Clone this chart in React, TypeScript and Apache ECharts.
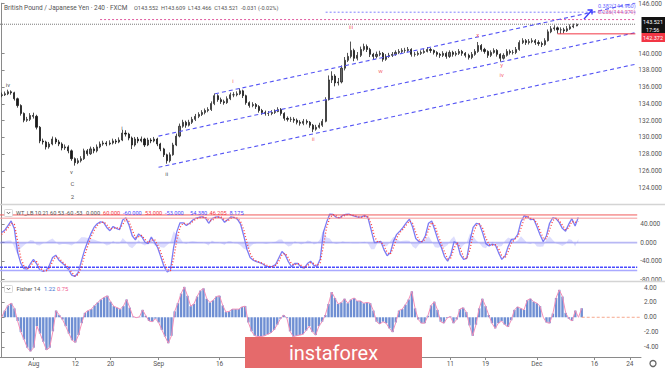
import React, { useEffect, useRef } from "react";
import * as echarts from "echarts";

const SLOTS = 200;
const firstOpen = 135.0;

const closes = [
  135.09,135.21,135.45,135.33,134.62,133.80,132.86,132.04,132.15,132.62,
  132.51,131.21,129.57,129.45,128.86,129.21,129.80,129.45,129.21,128.74,
  128.86,128.39,127.45,126.98,127.21,127.45,128.39,128.04,128.62,128.39,
  128.86,129.21,129.33,129.21,129.33,129.57,129.45,129.68,130.51,130.39,
  129.92,129.09,129.80,129.57,129.80,129.09,129.68,129.57,129.80,129.21,
  128.62,127.92,127.21,127.92,129.09,130.15,131.33,131.80,131.45,131.80,
  132.15,132.51,132.74,132.98,133.21,133.33,134.04,134.98,134.51,134.27,
  134.15,134.62,135.09,135.09,135.21,135.56,134.98,134.15,133.80,133.92,
  133.68,133.21,132.98,132.86,132.86,132.98,133.09,133.33,132.86,132.27,
  132.15,132.15,132.04,131.80,131.68,131.92,131.80,131.45,130.98,131.21,
  131.45,131.92,134.51,136.86,137.33,136.51,136.62,138.27,139.21,139.68,
  140.39,139.45,139.80,140.51,140.86,140.51,139.92,139.68,139.92,140.04,
  139.33,139.68,139.80,139.92,140.15,140.27,140.39,140.39,140.51,139.92,
  139.92,140.04,140.15,140.27,140.51,140.39,140.15,139.92,139.80,140.04,
  139.68,140.15,139.92,140.04,140.27,140.04,139.80,139.56,139.92,140.27,
  140.98,140.51,140.27,139.80,140.15,140.39,139.92,139.45,139.80,140.27,
  140.15,140.15,140.51,141.33,141.56,141.33,141.45,141.56,141.33,141.21,
  141.09,141.56,142.62,142.98,143.09,142.86,142.86,142.74,142.98,143.21,
  143.33,143.52
];

const highs = [
  135.35,135.48,135.70,135.62,135.45,134.75,133.95,132.98,132.45,132.90,
  132.95,132.70,131.35,129.85,129.60,129.45,130.10,130.00,129.70,129.40,
  129.15,129.05,128.55,127.60,127.50,127.75,128.65,128.60,128.90,128.85,
  129.15,129.50,129.60,129.55,129.65,129.85,129.80,130.00,130.90,130.85,
  130.55,130.10,130.05,130.05,130.10,129.95,129.95,129.90,130.05,129.95,
  129.35,128.75,128.05,128.20,129.35,130.45,131.65,132.10,132.00,132.10,
  132.45,132.80,133.00,133.25,133.45,133.60,134.30,135.25,135.15,134.75,
  134.50,134.90,135.35,135.40,135.50,135.85,135.70,135.10,134.30,134.20,
  134.10,133.85,133.40,133.20,133.15,133.25,133.35,133.60,133.50,133.00,
  132.50,132.45,132.40,132.25,132.05,132.20,132.15,131.95,131.60,131.50,
  131.75,132.20,134.80,137.40,137.90,137.55,137.10,138.60,139.60,140.10,
  141.45,140.60,140.20,140.85,141.20,141.10,140.70,140.10,140.25,140.35,
  140.20,139.95,140.10,140.20,140.40,140.55,140.65,140.70,140.80,140.65,
  140.20,140.30,140.40,140.55,140.80,140.70,140.50,140.30,140.10,140.30,
  140.25,140.40,140.35,140.30,140.55,140.45,140.20,140.00,140.20,140.55,
  141.40,141.15,140.70,140.40,140.40,140.65,140.55,140.05,140.05,140.55,
  140.50,140.45,140.80,141.60,141.85,141.75,141.75,141.85,141.75,141.60,
  141.45,141.85,142.90,143.30,143.40,143.25,143.15,143.10,143.30,143.50,
  143.60,143.61
];

const lows = [
  134.80,134.95,135.05,135.10,134.40,133.55,132.60,131.80,131.85,131.95,
  132.25,130.95,129.30,129.15,128.55,128.65,129.05,129.20,128.95,128.45,
  128.50,128.10,127.20,126.62,126.80,127.00,127.30,127.80,127.90,128.10,
  128.20,128.70,129.00,128.95,129.05,129.15,129.20,129.30,129.55,130.10,
  129.65,128.60,128.90,129.30,129.40,128.85,128.95,129.30,129.40,128.95,
  128.35,127.65,126.86,127.00,127.80,128.95,130.00,131.15,131.15,131.30,
  131.60,131.95,132.30,132.55,132.75,133.00,133.15,133.85,134.25,134.00,
  133.90,134.00,134.45,134.80,134.90,135.05,134.70,133.90,133.55,133.60,
  133.40,132.95,132.70,132.60,132.55,132.65,132.80,133.00,132.60,132.00,
  131.90,131.85,131.75,131.55,131.40,131.45,131.55,131.15,130.62,130.80,
  131.05,131.25,131.80,134.40,136.50,136.10,136.20,136.45,138.00,139.00,
  139.45,139.10,139.20,139.60,140.30,140.20,139.60,139.35,139.45,139.70,
  139.05,139.15,139.50,139.60,139.75,139.95,140.05,140.10,140.20,139.65,
  139.65,139.75,139.85,140.00,140.15,140.10,139.90,139.65,139.50,139.60,
  139.40,139.50,139.65,139.70,139.85,139.75,139.55,139.30,139.35,139.75,
  140.10,140.25,140.00,139.50,139.60,140.00,139.65,139.05,139.30,139.65,
  139.90,139.90,139.95,140.35,141.15,141.05,141.10,141.25,141.05,140.95,
  140.80,140.95,141.45,142.45,142.75,142.40,142.37,142.45,142.60,142.85,
  143.05,143.28
];

const fisher = [
  0.0,0.9,1.6,1.9,1.2,-0.5,-2.0,-3.0,-4.1,-4.6,
  -4.1,-1.2,-2.2,-3.3,-4.4,-4.1,-1.9,0.9,0.3,-0.3,
  -1.2,-2.2,-3.1,-3.4,-2.4,-0.8,0.6,0.9,1.1,1.6,
  2.0,2.4,2.7,2.9,2.1,1.5,1.3,1.1,1.5,2.4,
  1.3,0.1,-0.05,0.05,1.0,0.2,-0.5,-0.6,-0.2,-0.7,
  -1.7,-2.6,-3.5,-2.5,0.8,1.9,3.2,4.1,2.9,1.5,
  1.8,2.8,3.6,3.9,2.5,2.0,2.3,2.8,2.9,1.6,
  0.7,0.8,1.1,1.1,1.1,1.4,1.5,-0.7,-1.9,-2.5,
  -2.6,-2.6,-2.5,-2.3,-2.1,-1.7,-1.0,-0.2,0.3,-0.1,
  -1.9,-2.6,-2.5,-2.4,-2.3,-1.8,-1.2,-2.0,-2.4,-1.2,
  -0.6,0.3,1.8,3.4,2.6,1.8,2.0,2.5,1.9,2.4,
  2.6,2.2,2.2,1.9,2.0,1.9,0.9,-0.6,-0.9,-0.6,
  -0.8,-1.5,-2.0,-0.7,0.9,1.1,1.7,2.4,3.5,1.2,
  -0.3,-0.8,-0.8,0.2,1.6,2.1,1.0,-0.6,-0.8,-0.1,
  0.1,-0.8,-0.3,1.1,1.3,0.7,-1.1,-2.5,-1.0,1.2,
  2.5,1.5,0.3,-0.8,-1.5,-0.8,-0.5,-1.0,-1.3,-0.4,
  1.0,1.4,1.2,1.0,2.3,2.5,2.1,1.9,1.5,0.0,
  -0.7,-0.8,0.5,2.6,3.7,2.8,0.6,-0.2,-0.5,0.9,
  0.0,1.22
];

const wt1 = [
  22,27,37,47,30,-20,-44,-56,-57,-46,
  -36,-46,-59,-62,-60,-49,-32,-27,-38,-44,
  -50,-58,-70,-73,-65,-41,-17,2,19,33,
  41,45,44,33,26,35,31,28,49,54,
  38,15,6,19,13,1,-2,12,1,-11,
  -31,-52,-63,-59,-10,24,43,43,37,42,
  49,53,55,56,53,42,52,55,56,53,
  44,50,56,54,51,40,15,-14,-32,-38,
  -41,-43,-46,-51,-52,-51,-47,-33,-19,-26,
  -41,-52,-45,-45,-53,-55,-45,-40,-49,-51,
  -35,22,44,62,61,55,53,59,61,62,
  59,57,55,56,59,54,27,0,1,3,
  -15,-28,-22,3,18,25,33,43,51,34,
  9,2,2,15,42,47,27,5,-10,-30,
  -40,-26,2,-1,-26,-36,-34,5,33,42,
  40,21,-2,-7,-3,-5,-22,-36,-29,-8,
  7,8,18,45,58,56,50,51,35,17,
  2,15,42,54,52,44,31,25,40,52,
  36,54.38
];

const wt2 = [
  18,24,32,42,40,5,-32,-50,-57,-52,
  -41,-41,-53,-61,-61,-55,-41,-29,-33,-41,
  -47,-54,-64,-72,-69,-53,-29,-8,11,26,
  37,43,45,39,30,31,33,30,39,51,
  46,27,11,13,16,7,0,5,7,-5,
  -21,-41,-58,-61,-35,7,33,43,40,40,
  46,51,54,55,55,48,47,54,55,55,
  49,47,53,55,53,46,28,1,-23,-35,
  -40,-42,-45,-48,-51,-52,-49,-40,-26,-23,
  -33,-46,-48,-45,-49,-54,-50,-43,-45,-50,
  -43,-7,33,53,61,58,54,56,60,61,
  60,58,56,55,57,56,41,14,1,2,
  -6,-21,-25,-10,10,22,29,38,47,42,
  22,6,2,8,28,44,37,16,-2,-20,
  -35,-33,-12,1,-13,-31,-35,-15,19,37,
  41,31,10,-4,-5,-4,-13,-29,-33,-19,
  -1,7,13,31,51,57,53,50,43,26,
  10,8,28,48,53,48,38,28,32,46,
  44,46.205
];

const wtHist = [
  4,3,5,5,-10,-25,-12,-6,0,6,
  5,-5,-6,-1,1,6,9,2,-5,-3,
  -3,-4,-6,-1,4,12,12,10,8,7,
  4,2,-1,-6,-4,4,-2,-2,10,3,
  -8,-12,-5,6,-3,-6,-2,7,-6,-6,
  -10,-11,-5,2,25,17,10,0,-3,2,
  3,2,1,1,-2,-6,5,1,1,-2,
  -5,3,3,-1,-2,-6,-13,-15,-9,-3,
  -1,-1,-1,-3,-1,1,2,7,7,-3,
  -8,-6,3,0,-4,-1,5,3,-4,-1,
  8,29,11,9,0,-3,-1,3,1,1,
  -1,-1,-1,1,2,-2,-14,-14,0,1,
  -9,-7,3,13,8,3,4,5,4,-8,
  -13,-4,0,7,14,3,-10,-11,-8,-10,
  -5,7,14,-2,-13,-5,1,20,14,5,
  -1,-10,-12,-3,2,-1,-9,-7,4,11,
  8,1,5,14,7,-1,-3,1,-8,-9,
  -8,7,14,6,-1,-4,-7,-3,8,6,
  -8,8.175
];

const xTickSlots = [10, 23, 34, 49, 68, 140, 151, 167, 185, 196];
const xTickLabels = ["Aug", "12", "20", "Sep", "16", "11", "19", "Dec", "16", "24"];
const priceTicks = [146, 140, 138, 136, 134, 132, 130, 128, 126, 124];
const wtTicks = [40, 0, -40, -80];
const fisherTicks = [4, 2, 0, -2, -4];

const lastPrice = 143.521;
const stopLevel = 142.372;
const stopStartSlot = 175;
const fib382 = 144.96;
const fib382StartSlot = 102;
const fib236 = 144.079;
const fib236StartSlot = 31;

const upperChannel = [[67.2, 135.21], [199.5, 146.07]];
const middleChannel = [[49.4, 130.15], [199.5, 142.51]];
const lowerChannel = [[49.4, 126.42], [199.5, 138.74]];

const wavesDark: [number, number, string][] = [
  [2.0, 136.27, "iv"], [22.0, 125.92, "v"], [22.3, 124.51, "C"], [22.3, 122.98, "2"],
  [37.9, 131.21, "i"], [52.0, 125.72, "ii"],
];
const wavesRed: [number, number, string][] = [
  [72.8, 136.74, "i"], [98.1, 129.92, "ii"], [110.0, 143.21, "iii"], [119.3, 138.04, "w"],
  [149.9, 142.27, "x"], [157.4, 138.74, "y"], [157.4, 137.56, "iv"],
];

const FONT = "Roboto, 'Liberation Sans', sans-serif";
const AX = "#8a8a8a";
const LBL = "#555";

function buildOption() {
  const cats = Array.from({ length: SLOTS }, (_, i) => String(i));
  const candles = closes.map((c, i) => [i === 0 ? firstOpen : closes[i - 1], c, lows[i], highs[i]]);
  const right = SLOTS - 0.5;
  const hLine = (x0: number, y: number) => [[x0, y], [right, y]];

  const yCommon = (ticks: number[], digits: number) => ({
    type: "value",
    position: "right",
    splitLine: { show: false },
    axisLine: { show: true, lineStyle: { color: AX, width: 1 } },
    axisTick: { show: true, customValues: ticks, length: 3, lineStyle: { color: AX } },
    axisLabel: {
      show: true, customValues: ticks, margin: 3, fontSize: 6.5, color: LBL, fontFamily: FONT,
      formatter: (v: number) => v.toFixed(digits),
    },
  });

  const lineS = (data: number[][], xi: number, yi: number, color: string, type: any, width: number) => ({
    type: "line", xAxisIndex: xi, yAxisIndex: yi, data, symbol: "none", silent: true,
    lineStyle: { color, type, width }, z: 5,
  });

  const waveSeries = (list: [number, number, string][], color: string) => ({
    type: "scatter", xAxisIndex: 1, yAxisIndex: 0, symbolSize: 0.1, silent: true,
    itemStyle: { color: "transparent" },
    data: list.map((w) => ({ value: [w[0], w[1]], name: w[2] })),
    label: { show: true, position: "inside", formatter: "{b}", color, fontSize: 6, fontFamily: FONT },
    z: 10,
  });

  const txt = (x: number, y: number, text: string, fill: string, size = 6.5, align = "left", z = 110) => ({
    type: "text", x, y, silent: true, z,
    style: { text, fill, fontSize: size, fontFamily: FONT, align, verticalAlign: "middle", textAlign: align, textVerticalAlign: "middle" },
  });

  return {
    animation: false,
    backgroundColor: "#ffffff",
    grid: [
      { left: 0, top: 0, width: 641, height: 204 },
      { left: 0, top: 205, width: 641, height: 76 },
      { left: 0, top: 282, width: 641, height: 75 },
    ],
    xAxis: [
      { type: "category", gridIndex: 0, data: cats, show: false },
      { type: "value", gridIndex: 0, min: -0.5, max: right, show: false },
      { type: "category", gridIndex: 1, data: cats, show: false },
      { type: "value", gridIndex: 1, min: -0.5, max: right, show: false },
      { type: "category", gridIndex: 2, data: cats, show: false },
      {
        type: "value", gridIndex: 2, min: -0.5, max: right, show: true, position: "bottom",
        splitLine: { show: false },
        axisLine: { show: true, lineStyle: { color: AX } },
        axisTick: { show: true, customValues: xTickSlots, length: 3, lineStyle: { color: AX } },
        axisLabel: {
          show: true, customValues: xTickSlots, margin: 3, fontSize: 6.5, color: LBL, fontFamily: FONT,
          formatter: (v: number) => xTickLabels[xTickSlots.indexOf(v)] ?? "",
        },
      },
    ],
    yAxis: [
      { ...yCommon(priceTicks, 3), gridIndex: 0, min: 122.035, max: 146.035 },
      { ...yCommon(wtTicks, 3), gridIndex: 1, min: -82.8, max: 81.5 },
      { ...yCommon(fisherTicks, 2), gridIndex: 2, min: -5.36, max: 4.76 },
    ],
    series: [
      lineS(hLine(-0.5, lastPrice), 1, 0, "#7a7a7a", "dotted", 1),
      lineS(hLine(fib236StartSlot, fib236), 1, 0, "#e05aa0", [2, 2], 1),
      lineS(hLine(fib382StartSlot, fib382), 1, 0, "#8080ff", [2, 2], 1),
      {
        type: "candlestick", xAxisIndex: 0, yAxisIndex: 0, data: candles, barWidth: 1.6,
        itemStyle: { color: "#6a6a6a", color0: "#1a1a1a", borderColor: "#2a2a2a", borderColor0: "#1a1a1a", borderWidth: 0.8 },
        silent: true, z: 3,
      },
      lineS(upperChannel, 1, 0, "#5555f5", [4, 3], 1.1),
      lineS(middleChannel, 1, 0, "#5555f5", [4, 3], 1.1),
      lineS(lowerChannel, 1, 0, "#5555f5", [4, 3], 1.1),
      lineS(hLine(stopStartSlot, stopLevel), 1, 0, "#f23645", "solid", 1),
      waveSeries(wavesDark, "#222"),
      waveSeries(wavesRed, "#f23645"),

      // WaveTrend pane
      lineS(hLine(-0.5, 60), 3, 1, "#f05a5a", "solid", 1),
      lineS(hLine(-0.5, 53), 3, 1, "#f59a9a", "solid", 1),
      lineS(hLine(-0.5, -53), 3, 1, "#4a4aff", [3, 1], 1.6),
      lineS(hLine(-0.5, -60), 3, 1, "#a9a9ff", "solid", 1.4),
      {
        type: "line", xAxisIndex: 2, yAxisIndex: 1, data: wtHist, symbol: "none", silent: true,
        lineStyle: { width: 0 }, areaStyle: { color: "rgba(110,110,250,0.33)" }, z: 2,
      },
      lineS(hLine(-0.5, 0), 3, 1, "rgba(125,125,235,0.55)", "solid", 1.8),
      {
        type: "line", xAxisIndex: 2, yAxisIndex: 1, data: wt1, symbol: "none", silent: true,
        lineStyle: { color: "rgba(80,80,240,0.75)", width: 1.3 }, z: 4,
      },
      {
        type: "line", xAxisIndex: 2, yAxisIndex: 1, data: wt2, symbol: "none", silent: true,
        lineStyle: { color: "#ff3b3b", width: 1.3, type: [1, 2] }, z: 5,
      },

      // Fisher pane
      {
        type: "bar", xAxisIndex: 4, yAxisIndex: 2, data: fisher, barWidth: 2.4, silent: true,
        itemStyle: { color: "#6f8fd3" }, z: 2,
      },
      {
        type: "line", xAxisIndex: 4, yAxisIndex: 2, data: fisher, symbol: "none", silent: true,
        lineStyle: { color: "#f48fb8", width: 1 }, z: 4,
      },
      lineS(hLine(closes.length - 1, 0), 5, 2, "#f6a88e", [3, 2], 1),
    ],
    graphic: [
      { type: "line", silent: true, z: 50, shape: { x1: 0, y1: 204.5, x2: 665, y2: 204.5 }, style: { stroke: "#d4d4d4", lineWidth: 1.6 } },
      { type: "line", silent: true, z: 50, shape: { x1: 0, y1: 281.5, x2: 665, y2: 281.5 }, style: { stroke: "#d4d4d4", lineWidth: 1.6 } },

      txt(4, 7.5, "British Pound / Japanese Yen · 240 · FXCM", LBL, 6.5),
      txt(134, 7.5, "O143.552  H143.609  L143.466  C143.521  -0.031 (-0.02%)", LBL, 5.6),

      // WT legend
      { type: "rect", silent: true, z: 100, shape: { x: 4.5, y: 209.5, width: 8, height: 7, r: 1 }, style: { fill: "#fff", stroke: "#cfcfcf", lineWidth: 0.8 } },
      { type: "polyline", silent: true, z: 101, shape: { points: [[6.8, 212], [8.5, 213.8], [10.2, 212]] }, style: { stroke: "#444", lineWidth: 0.8, fill: "none" } },
      txt(16, 213.3, "WT_LB 10 21 60 53 -60 -53", LBL, 5.6),
      txt(86, 213.3, "0.000", LBL, 5.6),
      txt(103, 213.3, "60.000", "#f23645", 5.6),
      txt(123, 213.3, "-60.000", "#4a4aff", 5.6),
      txt(145, 213.3, "53.000", "#f23645", 5.6),
      txt(165, 213.3, "-53.000", "#4a4aff", 5.6),
      txt(190, 213.3, "54.380", "#4a4aff", 5.6),
      txt(209.5, 213.3, "46.205", "#f23645", 5.6),
      txt(229.5, 213.3, "8.175", "#4a4aff", 5.6),

      // Fisher legend
      { type: "rect", silent: true, z: 100, shape: { x: 4.5, y: 285.5, width: 8, height: 7, r: 1 }, style: { fill: "#fff", stroke: "#cfcfcf", lineWidth: 0.8 } },
      { type: "polyline", silent: true, z: 101, shape: { points: [[6.8, 288], [8.5, 289.8], [10.2, 288]] }, style: { stroke: "#444", lineWidth: 0.8, fill: "none" } },
      txt(16.5, 289, "Fisher 14", LBL, 5.8),
      txt(44, 289, "1.22", "#3d6fd0", 5.8),
      txt(57, 289, "0.75", "#f06292", 5.8),

      // fib texts
      txt(598, 6, "0.382(144.960)", "#6a6aff", 5.5),
      txt(598, 11.5, "0.236(144.079)", "#e05aa0", 5.5),

      // arrow
      { type: "polyline", silent: true, z: 60, shape: { points: [[584, 19], [592, 10]] }, style: { stroke: "#3a3aff", lineWidth: 1.3, fill: "none" } },
      { type: "polyline", silent: true, z: 60, shape: { points: [[587.5, 10], [592, 10], [592, 14.5]] }, style: { stroke: "#3a3aff", lineWidth: 1.3, fill: "none" } },

      // price labels
      { type: "rect", silent: true, z: 100, shape: { x: 641.5, y: 17, width: 23.5, height: 9 }, style: { fill: "#131313" } },
      txt(643, 21.5, "143.521", "#ffffff", 5.5),
      { type: "rect", silent: true, z: 100, shape: { x: 641.5, y: 26, width: 23.5, height: 7 }, style: { fill: "#131313" } },
      txt(646, 29.5, "17:56", "#ffffff", 5.3),
      { type: "rect", silent: true, z: 100, shape: { x: 641.5, y: 33, width: 23.5, height: 9 }, style: { fill: "#f23645" } },
      txt(643, 37.5, "142.372", "#ffffff", 5.5),

      // logo
      { type: "rect", silent: true, z: 120, shape: { x: 245, y: 337, width: 177, height: 31 }, style: { fill: "#e56a6b" } },
      txt(333.5, 352.5, "instaforex", "#ffffff", 20, "center", 130),

      // gear
      { type: "circle", silent: true, z: 100, shape: { cx: 653, cy: 363.5, r: 3 }, style: { fill: "none", stroke: "#666", lineWidth: 1.3 } },
    ],
  };
}

export default function App() {
  const ref = useRef<HTMLDivElement>(null);
  useEffect(() => {
    if (!ref.current) return;
    const chart = echarts.init(ref.current, null, { renderer: "svg" });
    chart.setOption(buildOption() as any);
    return () => chart.dispose();
  }, []);
  return <div ref={ref} style={{ position: "fixed", left: 0, top: 0, width: 665, height: 368 }} />;
}
